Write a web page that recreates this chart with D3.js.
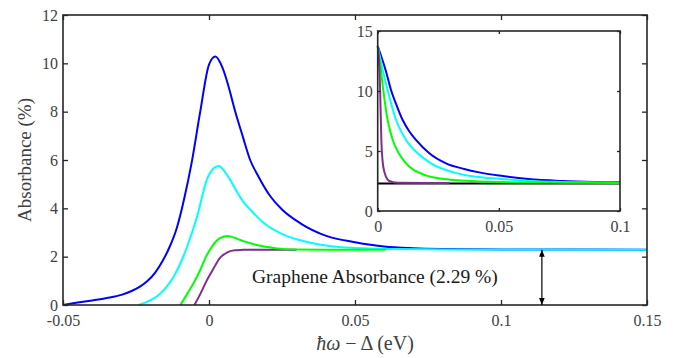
<!DOCTYPE html>
<html>
<head>
<meta charset="utf-8">
<script src="https://cdn.jsdelivr.net/npm/d3@7"></script>
<style>
  body { margin: 0; background: #fff; }
</style>
</head>
<body>
<div id="graph"></div>
<script>
// main plot: absorbance vs detuning, four broadening cases
const blueMain = [[-0.05,0],[-0.045,0.1],[-0.04,0.19],[-0.035,0.29],[-0.03,0.42],[-0.0265,0.58],[-0.0235,0.77],
  [-0.021,1.0],[-0.0185,1.33],[-0.016,1.8],[-0.0135,2.4],[-0.011,3.2],[-0.0085,4.4],[-0.006,5.85],
  [-0.003,8.0],[0,9.95],[0.0022,10.28],[0.0045,9.85],[0.0062,9.25],[0.009,8.0],[0.0115,7.0],[0.0141,6.0],
  [0.017,5.3],[0.021,4.5],[0.025,3.95],[0.0313,3.38],[0.0404,2.85],[0.05,2.6],[0.06,2.42],[0.07,2.35],
  [0.08,2.32],[0.1,2.3],[0.15,2.29]]
const cyanMain = [[-0.0241,0],[-0.02,0.2],[-0.0178,0.36],[-0.015,0.68],[-0.0121,1.17],[-0.0095,1.8],
  [-0.0075,2.41],[-0.0041,3.65],[-0.0007,5.2],[0.0015,5.65],[0.0033,5.75],[0.0055,5.5],[0.0073,5.17],
  [0.0095,4.7],[0.0119,4.25],[0.0141,3.95],[0.0187,3.4],[0.0244,2.97],[0.03,2.72],[0.0347,2.58],
  [0.0427,2.42],[0.05,2.36],[0.06,2.32],[0.08,2.3],[0.15,2.29]]
const greenMain = [[-0.0098,0],[-0.0075,0.45],[-0.0053,0.9],[-0.003,1.45],[-0.001,2.0],[0.0015,2.5],
  [0.0039,2.78],[0.0064,2.86],[0.009,2.77],[0.0107,2.69],[0.0135,2.58],[0.0164,2.48],[0.02,2.4],
  [0.0233,2.34],[0.03,2.3],[0.04,2.29],[0.0606,2.29]]
const purpleMain = [[-0.005,0],[-0.003,0.45],[-0.0007,1.03],[0.0015,1.5],[0.0039,1.97],[0.0055,2.12],
  [0.0073,2.23],[0.0095,2.27],[0.0119,2.29],[0.03,2.29]]

// inset
const blueInset = [[0,13.75],[0.0034,11.65],[0.0055,10.08],[0.008,8.7],[0.0103,7.58],[0.013,6.65],[0.0158,5.92],
  [0.0213,4.81],[0.0282,3.97],[0.0357,3.5],[0.0419,3.22],[0.0502,2.95],[0.0622,2.66],[0.0759,2.5],
  [0.0897,2.42],[0.1,2.39]]
const cyanInset = [[0,13.75],[0.002,11.8],[0.0041,10.08],[0.0076,7.58],[0.0117,5.92],[0.0165,4.81],[0.022,3.97],
  [0.0316,3.2],[0.0364,2.98],[0.0406,2.85],[0.0502,2.68],[0.0622,2.5],[0.075,2.42],[0.09,2.38],[0.1,2.36]]
const greenInset = [[0,13.75],[0.001,12.3],[0.0023,10.08],[0.0041,7.58],[0.0062,5.92],[0.0087,4.81],[0.0117,3.97],
  [0.0199,2.97],[0.0282,2.65],[0.0364,2.52],[0.05,2.42],[0.075,2.36],[0.1,2.34]]
const purpleInset = [[0,13.75],[0.0004,13.0],[0.001,10.08],[0.0015,5.92],[0.002,4.2],[0.0027,3.3],
  [0.0048,2.5],[0.008,2.36],[0.0296,2.33]]

const grapheneLevel = 2.29
const arrowX = 0.114
const mainXTicks = [-0.05, 0, 0.05, 0.1, 0.15]
const mainYTicks = [0, 2, 4, 6, 8, 10, 12]
const insetXTicks = [0, 0.05, 0.1]
const insetYTicks = [0, 5, 10, 15]

const colors = { blue: "#0000ff", cyan: "#00ffff", green: "#00ff00", purple: "#7e2f8e" }
const axisColor = "#262626"
const labelColor = "#404040"
const serif = "'Liberation Serif', 'Times New Roman', 'DejaVu Serif', serif"

let width = 684
let height = 358

const svg = d3.select("#graph")
  .append("svg")
    .attr("width", width)
    .attr("height", height)
    .attr("font-family", serif)

// main axes box
const m = { left: 63, right: 647, top: 15, bottom: 305 }
const x = d3.scaleLinear().domain([-0.05, 0.15]).range([m.left, m.right])
const y = d3.scaleLinear().domain([0, 12]).range([m.bottom, m.top])

const line = (sx, sy) => d3.line()
  .x(d => sx(d[0]))
  .y(d => sy(d[1]))
  .curve(d3.curveMonotoneX)

function drawAxes(g, sx, sy, xt, yt, tick, fs) {
  const fmt = d => String(d)
  const bx = g.append("g").attr("transform", `translate(0,${sy.range()[0]})`)
    .call(d3.axisBottom(sx).tickValues(xt).tickSize(-tick).tickPadding(fs * 0.6).tickFormat(fmt))
  const tx = g.append("g").attr("transform", `translate(0,${sy.range()[1]})`)
    .call(d3.axisTop(sx).tickValues(xt).tickSize(-tick).tickFormat(""))
  const ly = g.append("g").attr("transform", `translate(${sx.range()[0]},0)`)
    .call(d3.axisLeft(sy).tickValues(yt).tickSize(-tick).tickPadding(5).tickFormat(fmt))
  const ry = g.append("g").attr("transform", `translate(${sx.range()[1]},0)`)
    .call(d3.axisRight(sy).tickValues(yt).tickSize(-tick).tickFormat(""))
  for (const a of [bx, tx, ly, ry]) {
    a.attr("font-family", serif)
    a.select(".domain").remove()
    a.selectAll("line").attr("stroke", axisColor).attr("stroke-width", 1.3)
    a.selectAll("text").attr("fill", labelColor).style("font-size", fs + "px")
      .style("font-family", serif)
  }
  g.append("rect")
    .attr("x", sx.range()[0]).attr("y", sy.range()[1])
    .attr("width", sx.range()[1] - sx.range()[0])
    .attr("height", sy.range()[0] - sy.range()[1])
    .attr("fill", "none").attr("stroke", axisColor).attr("stroke-width", 1.6)
}

const main = svg.append("g")

const mainSeries = [[blueMain, colors.blue], [cyanMain, colors.cyan], [purpleMain, colors.purple], [greenMain, colors.green]]
mainSeries.forEach(([data, c]) => {
  main.append("path")
    .datum(data)
    .attr("fill", "none")
    .attr("stroke", c)
    .attr("stroke-width", 2)
    .attr("d", line(x, y))
})

drawAxes(main, x, y, mainXTicks, mainYTicks, 5, 16)

// y label
svg.append("text")
  .attr("transform", `translate(31,${(m.top + m.bottom) / 2}) rotate(-90)`)
  .attr("text-anchor", "middle")
  .attr("fill", labelColor)
  .style("font-family", serif)
  .style("font-size", "19px")
  .text("Absorbance (%)")

// x label
const xl = svg.append("text")
  .attr("x", 365).attr("y", 350)
  .attr("text-anchor", "middle")
  .attr("fill", labelColor)
  .style("font-family", serif)
  .style("font-size", "20px")
xl.append("tspan").style("font-style", "italic").text("ħω")
xl.append("tspan").text(" − Δ (eV)")

// graphene annotation
svg.append("text")
  .attr("x", 252).attr("y", 282.5)
  .attr("fill", "#1a1a1a")
  .style("font-family", serif)
  .style("font-size", "19.5px")
  .text("Graphene Absorbance (2.29 %)")

const defs = svg.append("defs")
defs.append("marker")
  .attr("id", "head")
  .attr("viewBox", "0 0 10 10")
  .attr("refX", 10).attr("refY", 5)
  .attr("markerWidth", 7).attr("markerHeight", 7)
  .attr("markerUnits", "userSpaceOnUse")
  .attr("orient", "auto-start-reverse")
  .append("path").attr("d", "M0,1 L10,5 L0,9 Z").attr("fill", "#000")

svg.append("line")
  .attr("x1", x(arrowX)).attr("x2", x(arrowX))
  .attr("y1", y(grapheneLevel)).attr("y2", y(0))
  .attr("stroke", "#000").attr("stroke-width", 1.2)
  .attr("marker-start", "url(#head)")
  .attr("marker-end", "url(#head)")

// inset
const ix = d3.scaleLinear().domain([0, 0.1]).range([377.7, 620])
const iy = d3.scaleLinear().domain([0, 15]).range([211, 31])
const inset = svg.append("g")
inset.append("rect")
  .attr("x", 377.7).attr("y", 31).attr("width", 620 - 377.7).attr("height", 180)
  .attr("fill", "#fff")

inset.append("line")
  .attr("x1", ix(0)).attr("x2", ix(0.1))
  .attr("y1", iy(grapheneLevel)).attr("y2", iy(grapheneLevel))
  .attr("stroke", "#000").attr("stroke-width", 2)

const insetSeries = [[blueInset, colors.blue], [cyanInset, colors.cyan], [greenInset, colors.green], [purpleInset, colors.purple]]
insetSeries.forEach(([data, c]) => {
  inset.append("path")
    .datum(data)
    .attr("fill", "none")
    .attr("stroke", c)
    .attr("stroke-width", 2)
    .attr("d", line(ix, iy))
})

drawAxes(inset, ix, iy, insetXTicks, insetYTicks, 3, 16)
</script>
</body>
</html>
